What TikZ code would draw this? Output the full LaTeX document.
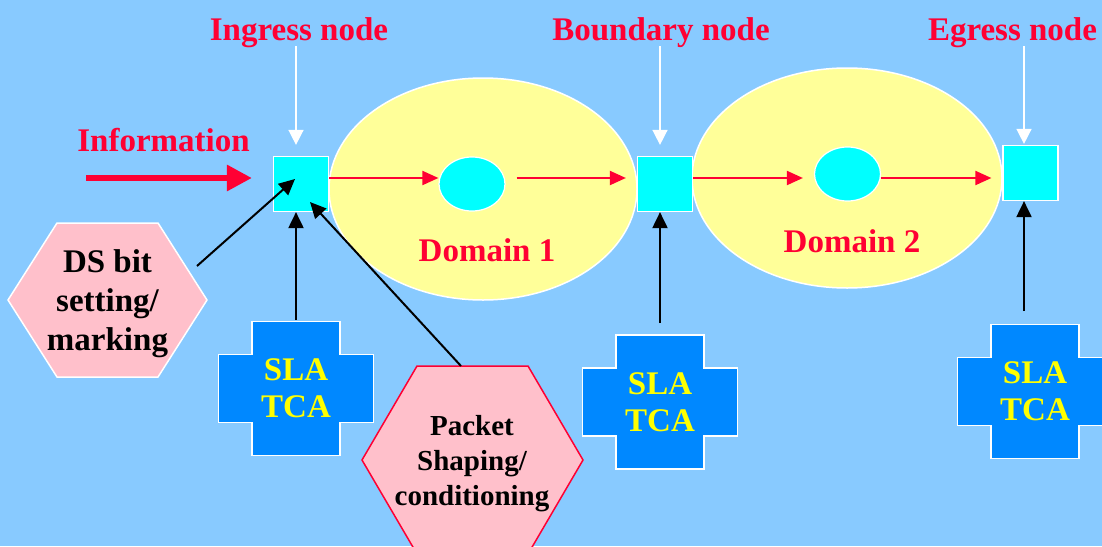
\documentclass[tikz,border=0pt]{standalone}
\usepackage{fontspec}
\setmainfont{Liberation Serif}
\usetikzlibrary{arrows.meta,shapes.geometric,calc}
\definecolor{bgblue}{HTML}{88CAFF}
\definecolor{redtxt}{HTML}{FF0033}
\definecolor{domfill}{HTML}{FFFF99}
\definecolor{crossblue}{HTML}{0088FF}
\definecolor{hexpink}{HTML}{FFC0CB}
\definecolor{slayellow}{HTML}{FFFF00}
\definecolor{nodecyan}{HTML}{00FFFF}
\begin{document}
\begin{tikzpicture}[x=1pt,y=-1pt,
  lbl/.style={font=\fontsize{33}{39}\selectfont\bfseries, text=redtxt, inner sep=0},
  sqnode/.style={draw=white, fill=nodecyan, line width=1.2pt, minimum size=55pt, inner sep=0},
  domnode/.style={ellipse, draw=white, fill=domfill, line width=1.5pt, inner sep=0},
  cnode/.style={ellipse, draw=white, fill=nodecyan, line width=1.2pt, minimum width=66pt, minimum height=54pt, inner sep=0},
  redarr/.style={draw=redtxt, line width=2pt, -{Triangle[width=14pt,length=16pt]}},
  whitearr/.style={draw=white, line width=1.5pt, -{Triangle[width=15pt,length=15pt]}},
  blackarr/.style={draw=black, line width=2pt, -{Triangle[width=15pt,length=16pt]}},
  hexshape/.style={fill=hexpink, line width=1.5pt},
  hextxt/.style={font=\fontsize{33}{39}\selectfont\bfseries, text=black, align=center, inner sep=0},
  slatxt/.style={font=\fontsize{33}{37}\selectfont\bfseries, text=slayellow, align=center, inner sep=0},
  slatca/.pic={
    \draw[white, fill=crossblue, line width=1.2pt]
      (-44,-67) -- (44,-67) -- (44,-34) -- (77.5,-34) -- (77.5,34) -- (44,34)
      -- (44,67) -- (-44,67) -- (-44,34) -- (-77.5,34) -- (-77.5,-34) -- (-44,-34) -- cycle;
    \node[slatxt] (-t) at (0,0) {SLA\\TCA};
    \coordinate (-top) at (0,-67);
  }]
\fill[bgblue] (0,0) rectangle (1102,546);
\useasboundingbox (0,0) rectangle (1102,546);

% domains
\node[domnode, minimum width=308pt, minimum height=222pt] (d1) at (483,189) {};
\node[domnode, minimum width=310pt, minimum height=220pt] (d2) at (847,178) {};
\node[lbl, anchor=base] (d1l) at (487,261) {Domain 1};
\node[lbl, anchor=base] (d2l) at (852,252) {Domain 2};

% nodes
\node[sqnode] (ing) at (301,184) {};
\node[sqnode] (bnd) at (665,184) {};
\node[sqnode] (egr) at (1030.5,173) {};
\node[cnode] (c1) at (472,184) {};
\node[cnode] (c2) at (847.5,174) {};

% red flow arrows
\coordinate (yline) at (0,178);
\draw[redarr] (ing.east |- yline) -- (c1.west |- yline);
\draw[redarr, shorten <=11pt, shorten >=11pt] (c1.east |- yline) -- (bnd.west |- yline);
\draw[redarr, shorten >=11pt] (bnd.east |- yline) -- (c2.west |- yline);
\draw[redarr, shorten >=11pt] (c2.east |- yline) -- (egr.west |- yline);

% top labels
\node[lbl, anchor=base] (lin) at (299,40) {Ingress node};
\node[lbl, anchor=base] (lbd) at (661,40) {Boundary node};
\node[lbl, anchor=base] (leg) at (1012.5,40) {Egress node};
\coordinate (wi) at (296,46);
\coordinate (wb) at (660,46);
\coordinate (we) at (1024,46);
\draw[whitearr, shorten >=11pt] (wi) -- (wi |- ing.north);
\draw[whitearr, shorten >=11pt] (wb) -- (wb |- bnd.north);
\draw[whitearr, shorten >=1pt] (we) -- (we |- egr.north);

% information
\node[lbl, anchor=base] (info) at (163.5,151) {Information};
\coordinate (infs) at (86,178);
\draw[draw=redtxt, line width=6pt, -{Triangle[width=25pt,length=25pt]}, shorten >=21pt] (infs) -- (ing.west |- yline);

% hexagons
\draw[hexshape, draw=white] (8,300) -- (57,223) -- (158,223) -- (207,300) -- (158,377) -- (57,377) -- cycle;
\node[hextxt] (ds) at (107.5,304) {DS bit\\setting/\\marking};
\draw[hexshape, draw=redtxt] (362,460) -- (417,366) -- (528,366) -- (583,460) -- (528,554) -- (417,554) -- cycle;
\node[hextxt, font=\fontsize{29}{35}\selectfont\bfseries] (pk) at (472,464) {Packet\\Shaping/\\conditioning};

% SLA TCA crosses
\pic (ic) at (296,388.5) {slatca};
\pic (bc) at (660,402) {slatca};
\pic (ec) at (1035,391.5) {slatca};

% black arrows
\draw[blackarr, shorten <=2pt] (ic-top) -- (ing.south -| ic-top);
\draw[blackarr, shorten <=12pt] (bc-top) -- (bnd.south -| bc-top);
\coordinate (ea) at (1024,311);
\draw[blackarr] (ea) -- (egr.south -| ea);
\coordinate (dsa) at (197,266);
\draw[blackarr] (dsa) -- ($(ing.center)+(-6,-5)$);
\coordinate (pka) at (461,366);
\draw[blackarr] (pka) -- ($(ing.center)+(9,18)$);
\end{tikzpicture}
\end{document}
